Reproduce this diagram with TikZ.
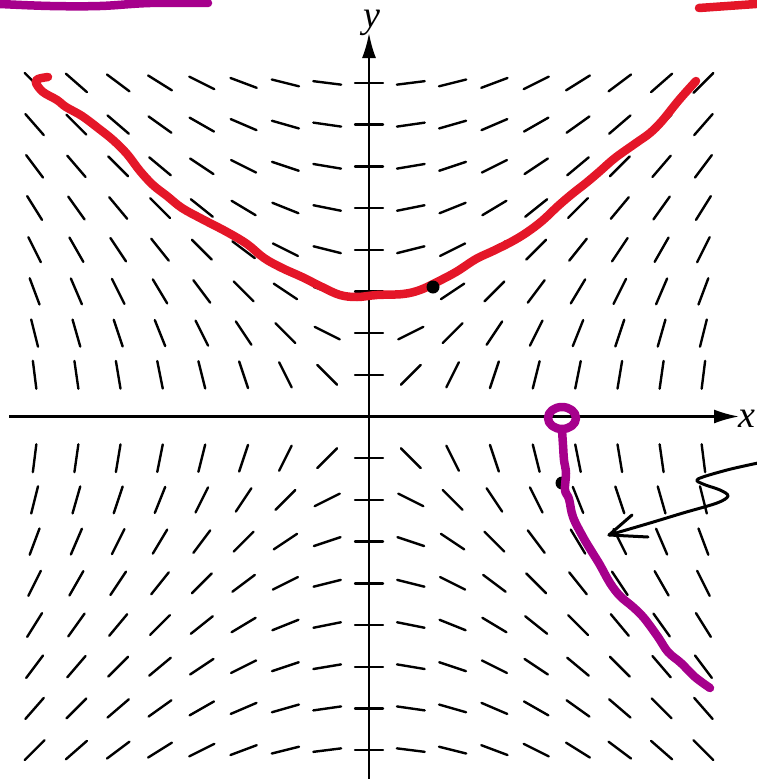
\documentclass[tikz,border=0pt]{standalone}
\usepackage{fontspec}
\setmainfont{Liberation Serif}
\usetikzlibrary{arrows.meta}
\definecolor{inkred}{RGB}{228,22,40}
\definecolor{inkpurple}{RGB}{166,0,140}
\tikzset{
  seg/.style={line width=2.4pt, black, line cap=round},
  axis/.style={line width=2.2pt, black, -{Latex[length=25pt,width=14pt]}},
  redink/.style={line width=8.5pt, inkred, line cap=round, line join=round},
  purpleink/.style={line width=8.5pt, inkpurple, line cap=round, line join=round},
  blackink/.style={line width=3pt, black, line cap=round, line join=round},
  lbl/.style={font=\fontsize{38}{42}\selectfont\itshape, inner sep=0pt}
}
\begin{document}
\begin{tikzpicture}[x=1pt,y=-1pt]
\useasboundingbox (0,0) rectangle (756,779);
\fill[white] (0,0) rectangle (756,779);
% slope field dy/dx = x/y
\foreach \i in {-8,...,8}{
  \foreach \j in {-8,...,8}{
    \ifnum\j=0\else
      \pgfmathsetmacro\L{sqrt(\i*\i+\j*\j)}
      \pgfmathsetmacro\cx{369+41.8*\i}
      \pgfmathsetmacro\cy{416.5-41.7*\j}
      \pgfmathsetmacro\ux{14*\j/\L}
      \pgfmathsetmacro\uy{-14*\i/\L}
      \draw[seg] (\cx+\ux,\cy+\uy) -- (\cx-\ux,\cy-\uy);
    \fi
  }
}
% axes
\coordinate (xs) at (9,416.5);
\coordinate (xe) at (739,416.5);
\coordinate (ys) at (369,790);
\coordinate (ye) at (369,33);
\draw[axis] (xs) -- (xe);
\draw[axis] (ys) -- (ye);
\node[lbl, anchor=base west] (xl) at (738,427) {x};
\node[lbl, anchor=base] (yl) at (372,27.5) {y};
% hand-drawn annotations
\draw[redink] plot[smooth, tension=0.6] coordinates {(48,77) (38,79) (36,83) (43,92) (57,100) (66,107) (82,116) (98,128) (113,140) (127,154) (140,171) (153,185) (167,196) (182,208) (202,219) (227,232) (247,244) (264,258) (282,268) (302,277) (322,287) (340,295) (357,297) (377,295) (403,294) (420,290) (437,282) (456,272) (476,259) (493,251) (511,242) (526,233) (542,221) (558,206) (572,194) (586,183) (599,172) (615,158) (636,143) (650,133) (662,121) (679,100) (696,81)};
\fill[black] (433,287) circle (6.5);
\fill[black] (562,483) circle (6.5);
\draw[purpleink] (562,418) ellipse (14 and 11);
\draw[purpleink] plot[smooth, tension=0.6] coordinates {(562,430) (563,445) (564,460) (566,473) (565,490) (569,499) (573,517) (583,537) (592,552) (600,565) (610,583) (620,596) (633,607) (644,618) (658,637) (668,652) (681,663) (695,677) (710,688)};
\draw[purpleink] plot[smooth, tension=0.6] coordinates {(0,4) (50,6) (100,6) (150,3) (208,3)};
\draw[redink] (699,8) -- (756,4);
\draw[blackink] plot[smooth, tension=0.55] coordinates {(758,463) (727,470) (698,479) (703,484) (720,490) (728,496) (717,503) (683,513) (650,523) (609,535)};
\coordinate (tip) at (609,535);
\coordinate (h1) at (632,515);
\coordinate (h2) at (648,537);
\draw[blackink] (h1) -- (tip) -- (h2);
\end{tikzpicture}
\end{document}
